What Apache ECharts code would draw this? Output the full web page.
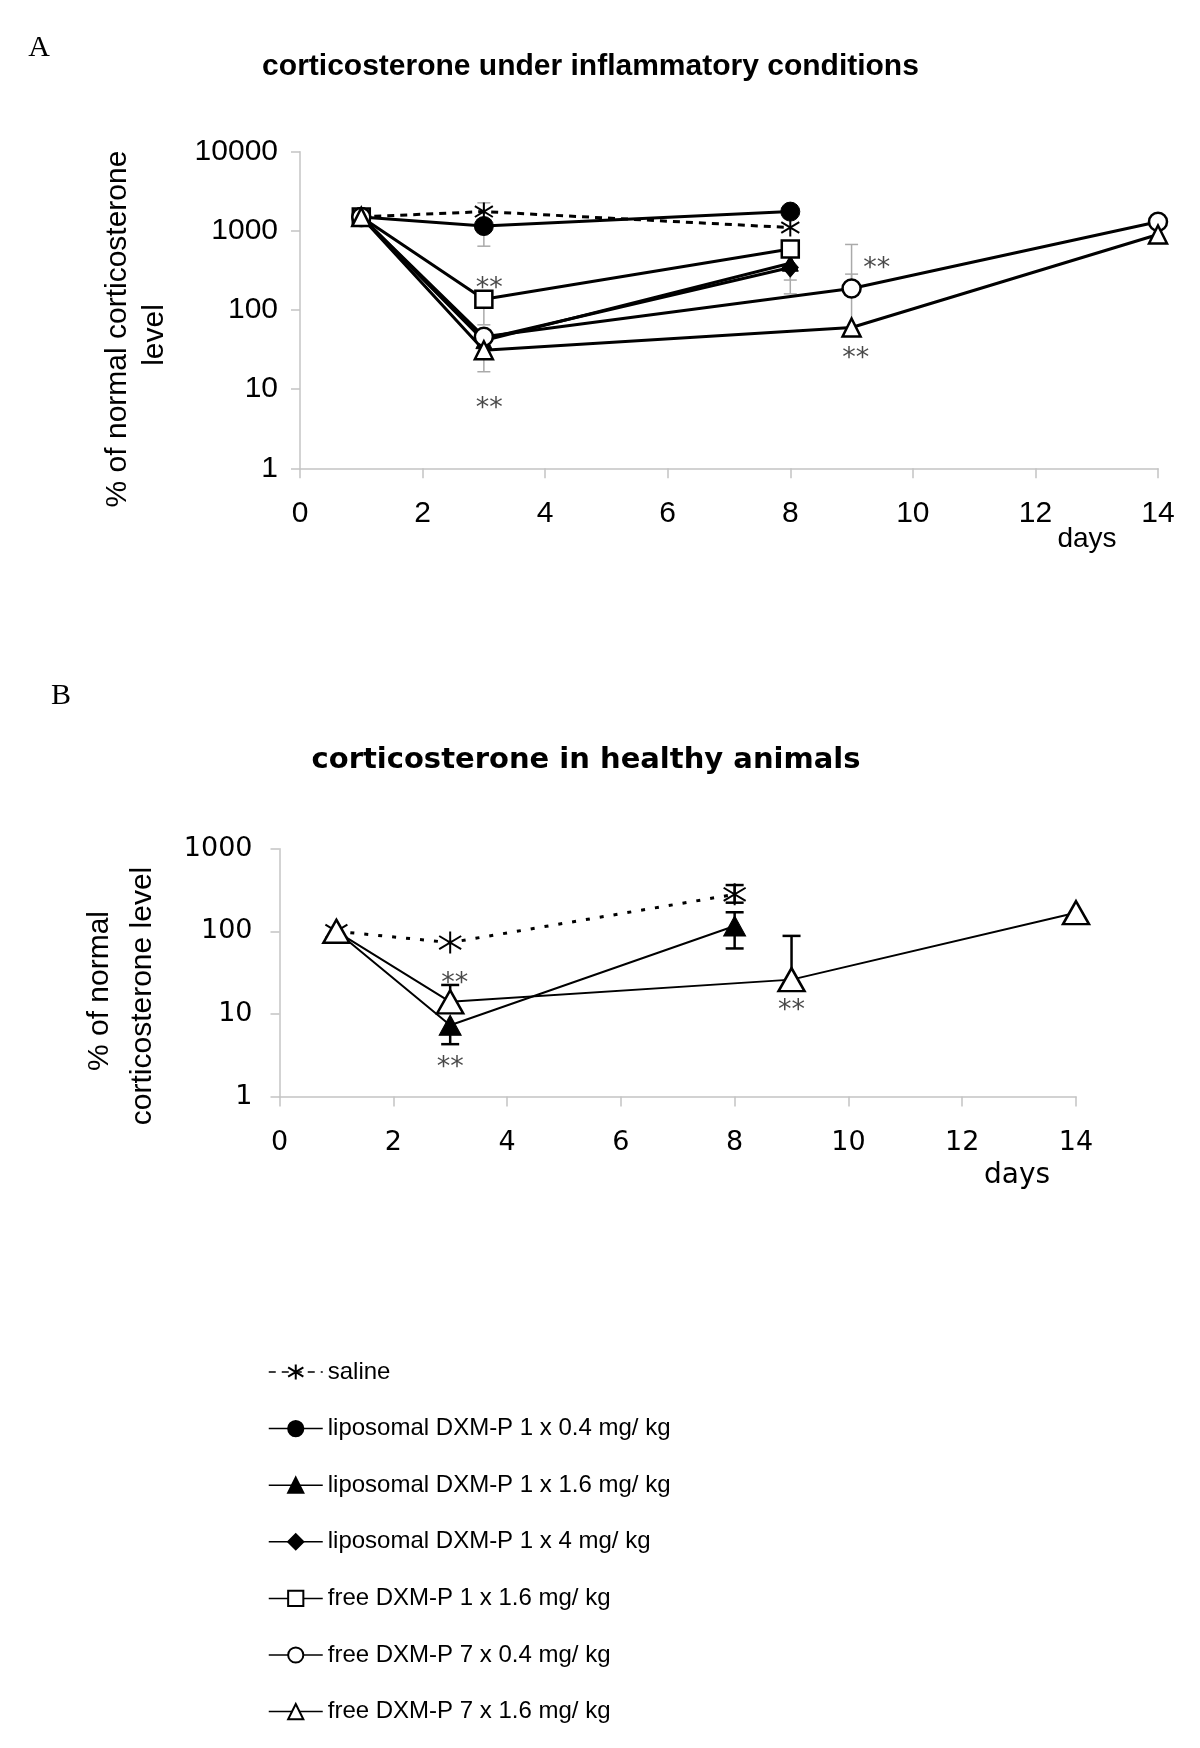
<!DOCTYPE html>
<html>
<head>
<meta charset="utf-8">
<script src="https://cdn.jsdelivr.net/npm/echarts@6/dist/echarts.min.js"></script>
<style>
html,body{margin:0;padding:0;background:#fff;}
#main{width:1200px;height:1748px;}
</style>
</head>
<body>
<div id="main"></div>
<script>
// ---------- DATA ----------
const seriesNames = [
  'saline',
  'liposomal DXM-P 1 x 0.4 mg/ kg',
  'liposomal DXM-P 1 x 1.6 mg/ kg',
  'liposomal DXM-P 1 x 4 mg/ kg',
  'free DXM-P 1 x 1.6 mg/ kg',
  'free DXM-P 7 x 0.4 mg/ kg',
  'free DXM-P 7 x 1.6 mg/ kg'
];
const xTicks = [0, 2, 4, 6, 8, 10, 12, 14];
const yTicksA = [1, 10, 100, 1000, 10000];
const yTicksB = [1, 10, 100, 1000];

// Panel A: corticosterone under inflammatory conditions  [day, % of normal]
const A_saline   = [[1, 1500], [3, 1750], [8, 1100]];
const A_lipo04   = [[1, 1500], [3, 1150], [8, 1750]];
const A_lipo16   = [[1, 1500], [3, 41], [8, 390]];
const A_lipo4    = [[1, 1500], [3, 43], [8, 345]];
const A_free16   = [[1, 1500], [3, 137], [8, 590]];
const A_free7x04 = [[1, 1500], [3, 46], [9, 187], [14, 1300]];
const A_free7x16 = [[1, 1500], [3, 31], [9, 60], [14, 900]];
// error bars: [day, mean, end]
const A_errors = [
  [3, 1750, 2260], [3, 1150, 640], [3, 137, 65], [3, 31, 16.6],
  [8, 345, 239], [8, 345, 160],
  [9, 187, 673], [9, 60, 284]
];
// significance marks: [day, level]
const A_sig = [[3.09, 219], [3.09, 6.7], [9.41, 387], [9.07, 28.6]];

// Panel B: corticosterone in healthy animals
const B_saline   = [[1, 100], [3, 73], [8, 280]];
const B_lipo16   = [[1, 100], [3, 7.3], [8, 116]];
const B_free7x16 = [[1, 100], [3, 14], [9, 26], [14, 168]];
const B_errors = [
  [3, 14, 22.4], [3, 7.3, 4.3],
  [8, 116, 170], [8, 116, 62],
  [8, 280, 363], [8, 280, 222],
  [9, 26, 88]
];
const B_sig = [[3.08, 27], [3.0, 2.64], [9.0, 12.8]];

// ---------- STYLE ----------
const SANS = "'Liberation Sans', Arial, sans-serif";
const DEJA = "'DejaVu Sans', sans-serif";
const SERIF = "'Liberation Serif', 'Times New Roman', serif";
const STAR = 'path://M10,0 L10,20 M1.5,4 L18.5,16 M1.5,16 L18.5,4';
const AXIS_GRAY = '#c4c4c4';

function lineSeries(name, data, axis, opt) {
  return {
    name: name,
    type: 'line',
    xAxisIndex: axis, yAxisIndex: axis,
    data: data,
    symbol: opt.symbol,
    symbolSize: opt.size,
    showAllSymbol: true,
    z: 3,
    lineStyle: { color: '#000', width: opt.lw, type: opt.dash || 'solid' },
    itemStyle: { color: opt.fill, borderColor: '#000', borderWidth: opt.bw, opacity: 1 },
    emphasis: { disabled: true },
    animation: false
  };
}

function errSeries(data, axis, color, lw, cap) {
  return {
    type: 'custom',
    xAxisIndex: axis, yAxisIndex: axis,
    data: data,
    z: 2,
    encode: { x: 0, y: [1, 2] },
    silent: true,
    animation: false,
    renderItem: function (params, api) {
      const p0 = api.coord([api.value(0), api.value(1)]);
      const p1 = api.coord([api.value(0), api.value(2)]);
      const st = { stroke: color, lineWidth: lw };
      return {
        type: 'group',
        children: [
          { type: 'line', shape: { x1: p0[0], y1: p0[1], x2: p1[0], y2: p1[1] }, style: st },
          { type: 'line', shape: { x1: p1[0] - cap / 2, y1: p1[1], x2: p1[0] + cap / 2, y2: p1[1] }, style: st }
        ]
      };
    }
  };
}

function sigSeries(data, axis) {
  return {
    type: 'scatter',
    name: 'sig',
    xAxisIndex: axis, yAxisIndex: axis,
    data: data,
    symbol: 'circle',
    symbolSize: 2,
    z: 4,
    silent: true,
    animation: false,
    itemStyle: { color: 'rgba(255,255,255,0)' },
    label: {
      show: true, position: 'inside', formatter: '**',
      fontFamily: DEJA, fontSize: 27, color: '#1a1a1a', offset: [0, 6]
    }
  };
}

function xAxisDef(grid, labelFont, labelSize, margin) {
  return {
    type: 'value', gridIndex: grid, min: 0, max: 14, interval: 2,
    axisLine: { show: true, onZero: false, lineStyle: { color: AXIS_GRAY, width: 1.5 } },
    axisTick: { show: true, inside: false, length: 10, lineStyle: { color: AXIS_GRAY, width: 1.5 } },
    splitLine: { show: false },
    axisLabel: { fontFamily: labelFont, fontSize: labelSize, color: '#000', margin: margin,
      formatter: function (v) { return xTicks.indexOf(v) >= 0 ? String(v) : ''; } }
  };
}

function yAxisDef(grid, max, labelFont, labelSize, margin, ticks) {
  return {
    type: 'log', logBase: 10, gridIndex: grid, min: 1, max: max,
    axisLine: { show: true, lineStyle: { color: AXIS_GRAY, width: 1.5 } },
    axisTick: { show: true, inside: false, length: 9, lineStyle: { color: AXIS_GRAY, width: 1.5 } },
    minorTick: { show: false },
    splitLine: { show: false },
    axisLabel: { fontFamily: labelFont, fontSize: labelSize, color: '#000', margin: margin,
      formatter: function (v) { const r = Math.round(v); return ticks.indexOf(r) >= 0 ? String(r) : ''; } }
  };
}

function txt(x, y, text, font, rot) {
  return {
    type: 'text', x: x, y: y, rotation: rot || 0, silent: true,
    style: { text: text, font: font, fill: '#000', align: 'center', verticalAlign: 'middle',
             textAlign: 'center', textVerticalAlign: 'middle' }
  };
}

const chart = echarts.init(document.getElementById('main'), null, { renderer: 'canvas' });

const option = {
  backgroundColor: '#fff',
  animation: false,
  grid: [
    { left: 300, right: 42, top: 151.7, height: 316.6 },
    { left: 279.5, right: 124, top: 848.7, height: 247.8 }
  ],
  xAxis: [ xAxisDef(0, SANS, 30, 30), xAxisDef(1, DEJA, 27, 33) ],
  yAxis: [ yAxisDef(0, 10000, SANS, 30, 22, yTicksA), yAxisDef(1, 1000, DEJA, 27, 27, yTicksB) ],
  legend: {
    orient: 'vertical', left: 263, top: 1355,
    itemWidth: 54, itemHeight: 19, itemGap: 32.6,
    data: seriesNames,
    selectedMode: false,
    textStyle: { fontFamily: SANS, fontSize: 24, color: '#000' },
    lineStyle: { width: 1.5 }
  },
  graphic: [
    txt(39, 48, 'A', '30px ' + SERIF),
    txt(61, 696, 'B', '30px ' + SERIF),
    txt(590.5, 67, 'corticosterone under inflammatory conditions', 'bold 30px ' + SANS),
    txt(586, 760, 'corticosterone in healthy animals', 'bold 29px ' + DEJA),
    txt(118, 329, '% of normal corticosterone', '30px ' + SANS, Math.PI / 2),
    txt(155, 335, 'level', '30px ' + SANS, Math.PI / 2),
    txt(1087, 539, 'days', '28px ' + SANS),
    txt(100, 991, '% of normal', '30px ' + SANS, Math.PI / 2),
    txt(143, 996, 'corticosterone level', '30px ' + SANS, Math.PI / 2),
    txt(1017, 1176, 'days', '28px ' + DEJA)
  ],
  series: [
    // Panel A
    errSeries(A_errors, 0, '#aaaaaa', 1.5, 13),
    lineSeries(seriesNames[0], A_saline, 0, { symbol: STAR, size: 18, lw: 3, dash: [7, 6], fill: '#000', bw: 2 }),
    lineSeries(seriesNames[1], A_lipo04, 0, { symbol: 'circle', size: 19, lw: 3, fill: '#000', bw: 1 }),
    lineSeries(seriesNames[2], A_lipo16, 0, { symbol: 'triangle', size: 16, lw: 3, fill: '#000', bw: 1 }),
    lineSeries(seriesNames[3], A_lipo4, 0, { symbol: 'diamond', size: [16, 19], lw: 3, fill: '#000', bw: 1 }),
    lineSeries(seriesNames[4], A_free16, 0, { symbol: 'rect', size: 17, lw: 3, fill: '#fff', bw: 2.5 }),
    lineSeries(seriesNames[5], A_free7x04, 0, { symbol: 'circle', size: 18, lw: 3, fill: '#fff', bw: 2.5 }),
    lineSeries(seriesNames[6], A_free7x16, 0, { symbol: 'triangle', size: 18, lw: 3, fill: '#fff', bw: 2.5 }),
    sigSeries(A_sig, 0),
    // Panel B
    errSeries(B_errors, 1, '#000', 2.5, 18),
    lineSeries(seriesNames[0], B_saline, 1, { symbol: STAR, size: 22, lw: 3, dash: [4, 10], fill: '#000', bw: 2 }),
    lineSeries(seriesNames[2], B_lipo16, 1, { symbol: 'triangle', size: [22, 20], lw: 2, fill: '#000', bw: 1 }),
    lineSeries(seriesNames[6], B_free7x16, 1, { symbol: 'triangle', size: [26, 23], lw: 2, fill: '#fff', bw: 2.5 }),
    sigSeries(B_sig, 1)
  ]
};
chart.setOption(option);
</script>
</body>
</html>
